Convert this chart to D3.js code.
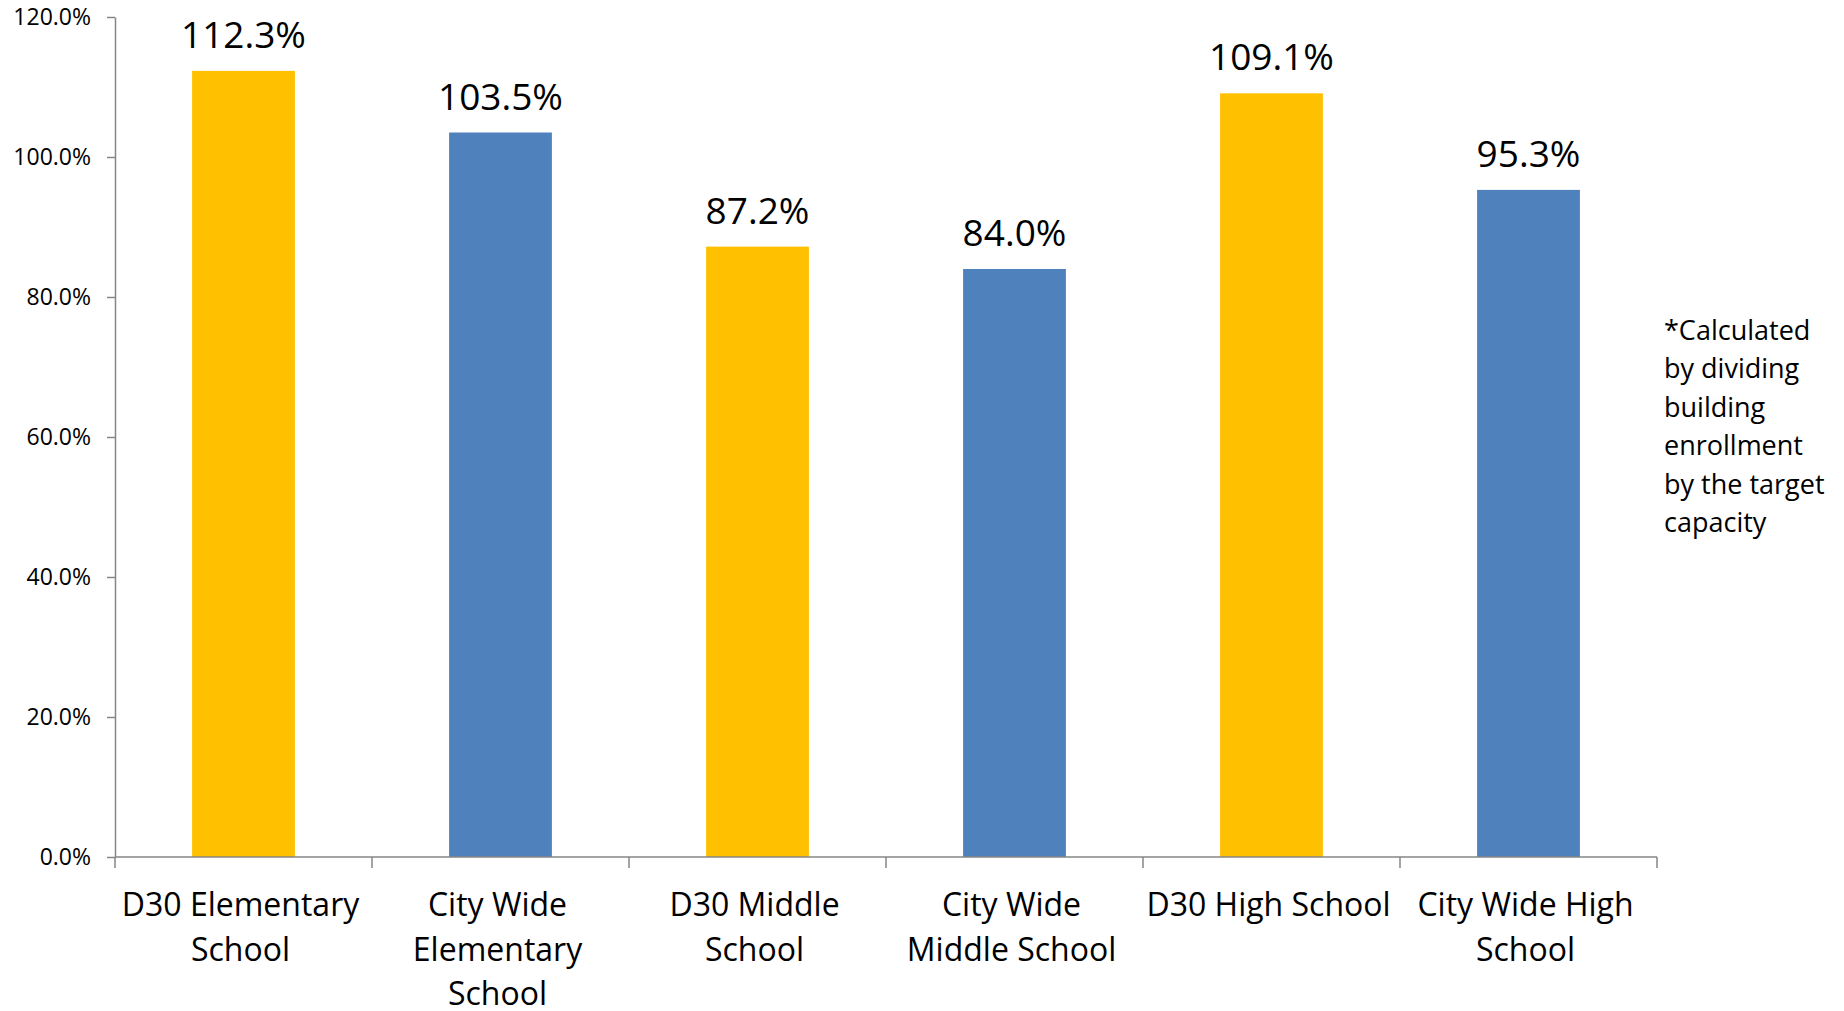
<!DOCTYPE html>
<html>
<head>
<meta charset="utf-8">
<script src="https://cdn.jsdelivr.net/npm/d3@7"></script>
<style>
  html, body { margin: 0; padding: 0; background: #fff; }
  text { font-family: "Open Sans", "Noto Sans", sans-serif; fill: #000; }
</style>
</head>
<body>
<div class="chart"></div>
<script>
const WIDTH = 1844;
const HEIGHT = 1011;

// data
var categories = ['D30 Elementary School', 'City Wide Elementary School', 'D30 Middle School',
  'City Wide Middle School', 'D30 High School', 'City Wide High School'];
var values = [112.3, 103.5, 87.2, 84.0, 109.1, 95.3];
var groups = ['D30', 'City', 'D30', 'City', 'D30', 'City'];
var labelLines = [
  ['D30 Elementary', 'School'],
  ['City Wide', 'Elementary', 'School'],
  ['D30 Middle', 'School'],
  ['City Wide', 'Middle School'],
  ['D30 High School'],
  ['City Wide High', 'School']
];
var yTicks = [0, 20, 40, 60, 80, 100, 120];
var noteLines = ['*Calculated', 'by dividing', 'building', 'enrollment', 'by the target', 'capacity'];

var colors = { D30: '#FFC000', City: '#4F81BD' };

var translate = function (x, y) {
  return 'translate(' + x + ',' + y + ')';
};

var xScale = d3.scaleBand()
  .domain(categories)
  .range([115, 1657])
  .paddingInner(0.6)
  .paddingOuter(0.3);

var yScale = d3.scaleLinear()
  .domain([0, 120])
  .range([857, 17]);

var svg = d3.select('.chart').append('svg')
  .attr('width', WIDTH)
  .attr('height', HEIGHT);

// y axis
var yAxis = d3.axisLeft(yScale)
  .tickValues(yTicks)
  .tickSize(8)
  .tickSizeOuter(0)
  .tickPadding(16)
  .tickFormat(function (d) { return d.toFixed(1) + '%'; });

var gy = svg.append('g')
  .attr('transform', translate(115, 0))
  .call(yAxis);
gy.select('.domain').attr('stroke', '#868686').attr('stroke-width', 1.5);
gy.selectAll('.tick line').attr('stroke', '#868686').attr('stroke-width', 1.5);
gy.selectAll('.tick text')
  .style('font-family', '"Open Sans", sans-serif')
  .style('font-size', '23px')
  .attr('fill', '#000');

// bars
svg.append('g').selectAll('rect')
  .data(values)
  .enter().append('rect')
  .attr('x', function (d, i) { return xScale(categories[i]); })
  .attr('width', xScale.bandwidth())
  .attr('y', function (d) { return yScale(d); })
  .attr('height', function (d) { return yScale(0) - yScale(d); })
  .attr('fill', function (d, i) { return colors[groups[i]]; });

// x axis line and boundary ticks
var x0 = xScale.range()[0];
var boundaries = d3.range(categories.length + 1).map(function (i) { return x0 + i * xScale.step(); });

var gx = svg.append('g');
gx.append('line')
  .attr('x1', xScale.range()[0]).attr('x2', xScale.range()[1])
  .attr('y1', yScale(0)).attr('y2', yScale(0))
  .attr('stroke', '#868686').attr('stroke-width', 1.5);
gx.selectAll('.xtick')
  .data(boundaries)
  .enter().append('line')
  .attr('x1', function (d) { return d; }).attr('x2', function (d) { return d; })
  .attr('y1', yScale(0)).attr('y2', yScale(0) + 11)
  .attr('stroke', '#868686').attr('stroke-width', 1.5);

// category labels
var labels = svg.append('g').selectAll('text')
  .data(labelLines)
  .enter().append('text')
  .attr('text-anchor', 'middle')
  .style('font-size', '32px')
  .attr('transform', function (d, i) {
    return translate(xScale(categories[i]) + xScale.bandwidth() / 2 - 3, 916);
  });
labels.selectAll('tspan')
  .data(function (d) { return d; })
  .enter().append('tspan')
  .attr('x', 0)
  .attr('y', function (d, j) { return j * 44.5; })
  .text(function (d) { return d; });

// value labels
svg.append('g').selectAll('text')
  .data(values)
  .enter().append('text')
  .attr('text-anchor', 'middle')
  .style('font-size', '37px')
  .attr('x', function (d, i) { return xScale(categories[i]) + xScale.bandwidth() / 2; })
  .attr('y', function (d) { return yScale(d) - 23; })
  .text(function (d) { return d.toFixed(1) + '%'; });

// note
var note = svg.append('text')
  .style('font-size', '27px')
  .attr('transform', translate(1664, 340));
note.selectAll('tspan')
  .data(noteLines)
  .enter().append('tspan')
  .attr('x', 0)
  .attr('y', function (d, i) { return i * 38.4; })
  .text(function (d) { return d; });
</script>
</body>
</html>
